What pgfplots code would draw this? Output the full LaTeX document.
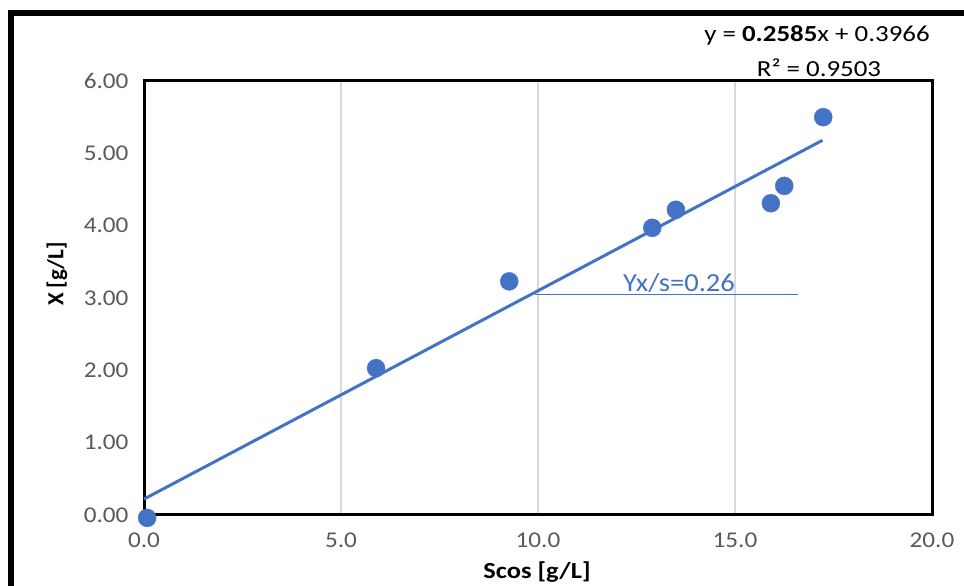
\documentclass[border=0pt]{standalone}
\usepackage{pgfplots}
\pgfplotsset{compat=1.18}
\usepackage{fontspec}
\setmainfont{Carlito}
\definecolor{xlblue}{HTML}{4472C4}
\definecolor{xlgrid}{HTML}{D9D9D9}
\definecolor{xltick}{HTML}{595959}
\begin{document}
\begin{tikzpicture}[x=1pt,y=1pt]
\useasboundingbox (0,0) rectangle (964,586);
\begin{axis}[
  at={(144pt,71pt)}, anchor=south west,
  width=788pt, height=434pt, scale only axis,
  xmin=0, xmax=20, ymin=0, ymax=6,
  xtick={0,5,10,15,20}, ytick={0,1,2,3,4,5,6},
  xmajorgrids, ymajorgrids=false,
  grid style={xlgrid, line width=1.5pt},
  axis line style={black, line width=3pt},
  major tick length=0pt,
  clip=false,
  /pgf/number format/assume math mode=true,
  xticklabel={\scalebox{1.12}[1]{\pgfmathprintnumber[fixed,fixed zerofill,precision=1]{\tick}}},
  yticklabel={\scalebox{1.12}[1]{\pgfmathprintnumber[fixed,fixed zerofill,precision=2]{\tick}}},
  xticklabel style={yshift=-14pt},
  yticklabel style={xshift=-12pt},
  ticklabel style={font=\fontsize{22.5}{26}\selectfont, text=xltick},
]
\addplot[xlblue, line width=3pt] coordinates {(0,0.22) (17.22,5.18)};
\addplot[xlblue, line width=1.2pt] coordinates {(9.92,3.05) (16.6,3.05)};
\addplot[only marks, mark=*, mark size=9pt, color=xlblue, mark options={fill=xlblue, draw=xlblue}] coordinates {
(0.08,-0.04)
(5.89,2.03)
(9.27,3.23)
(12.90,3.97)
(13.50,4.22)
(15.91,4.31)
(16.25,4.55)
(17.24,5.50)
};
\end{axis}
\draw[line width=6pt, miter limit=10] (11,0) -- (11,573) -- (970,573);
\node[font=\fontsize{23}{27}\selectfont\bfseries] at (537,14) {\scalebox{1.15}[1]{Scos [g/L]}};
\node[font=\fontsize{23}{27}\selectfont\bfseries, rotate=90] at (57,312) {X [g/L]};
\node[font=\fontsize{23}{27}\selectfont] at (817,551) {\scalebox{1.17}[1]{y = \textbf{0.2585}x + 0.3966}};
\node[font=\fontsize{23}{27}\selectfont] at (819,518) {\scalebox{1.17}[1]{R² = 0.9503}};
\node[font=\fontsize{26}{30}\selectfont, text=xlblue, anchor=base] at (679,294) {\scalebox{1.1}[1]{Yx/s=0.26}};
\end{tikzpicture}
\end{document}
